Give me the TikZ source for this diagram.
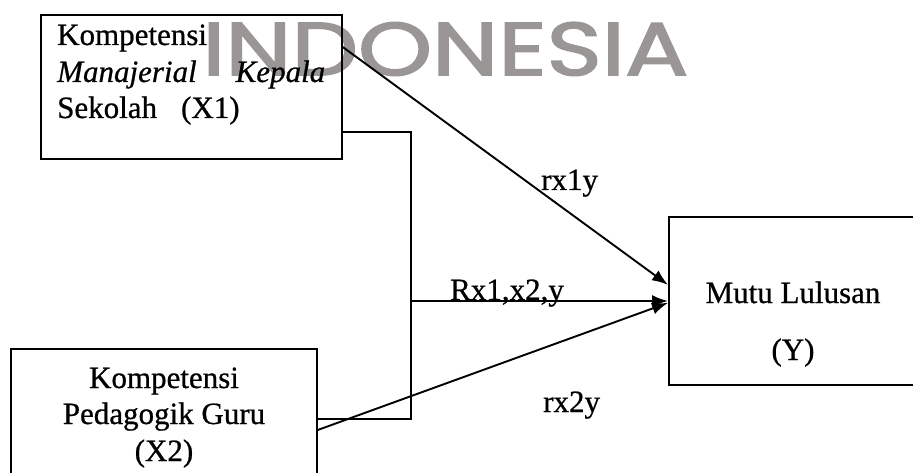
\documentclass[tikz,border=0pt]{standalone}
\usepackage{fontspec}
\setmainfont{Liberation Serif}[FakeBold=0.7]
\newfontfamily\wmfont{Poppins}[FakeBold=2]
\usetikzlibrary{arrows.meta}
\definecolor{wmgray}{HTML}{9A9695}
\tikzset{
  box/.style={draw, line width=1.7pt, inner sep=0pt, anchor=north west},
  conn/.style={line width=1.9pt},
  arr/.style={conn, -{Latex[length=16pt,width=12pt]}},
  txt/.style={inner sep=0pt, font=\fontsize{31}{37}\selectfont},
}
\begin{document}
\begin{tikzpicture}[x=1pt,y=-1pt]
\clip (0,0) rectangle (913,473);
\fill[white] (0,0) rectangle (913,473);
% watermark
\node[inner sep=0pt, anchor=north west, text=wmgray] (wm) at (202,22)
  {\resizebox{486pt}{53pt}{\wmfont INDONESIA}};
% boxes
\node[box, minimum width=301pt, minimum height=144pt] (x1) at (40,14) {};
\node[box, minimum width=306pt, minimum height=142pt] (x2) at (10,348) {};
\node[box, minimum width=280pt, minimum height=168pt] (y) at (668,216) {};
% box texts
\node[txt, anchor=base west] (t1a) at (57,45) {Kompetensi};
\node[txt, anchor=base west] (t1b) at (57,82) {\makebox[268pt][l]{\itshape Manajerial\hfill Kepala}};
\node[txt, anchor=base west] (t1c) at (57,118) {Sekolah\hspace*{24pt}(X1)};
\node[txt, anchor=base] (t2a) at (164,388) {Kompetensi};
\node[txt, anchor=base] (t2b) at (164,424) {Pedagogik Guru};
\node[txt, anchor=base] (t2c) at (164,461) {(X2)};
\node[txt, anchor=base] (t3a) at (793,303) {Mutu Lulusan};
\node[txt, anchor=base] (t3b) at (793,360) {(Y)};
% connectors
\coordinate (b1) at ([yshift=-118pt]x1.north east);
\coordinate (b2) at ([yshift=-71pt]x2.north east);
\coordinate (j) at (411,301);
\draw[conn] (b1) -| (j) |- (b2);
\draw[arr] (j) -- (j -| y.west);
\draw[arr] ([yshift=-33pt]x1.north east) -- ([yshift=16pt]y.west);
\draw[arr] ([yshift=-82pt]x2.north east) -- ([yshift=-2pt]y.west);
% labels
\node[txt, anchor=base west] (l1) at (541,190) {rx1y};
\node[txt, anchor=base west] (l2) at (450,300) {Rx1,x2,y};
\node[txt, anchor=base west] (l3) at (543,412) {rx2y};
\end{tikzpicture}
\end{document}
